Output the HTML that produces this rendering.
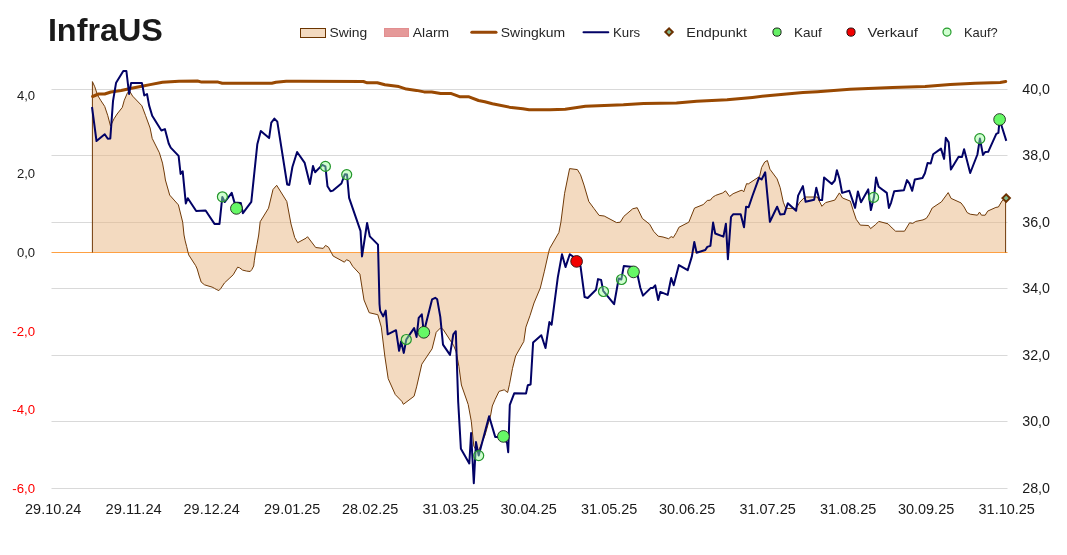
<!DOCTYPE html>
<html lang="de"><head><meta charset="utf-8"><title>InfraUS</title>
<style>html,body{margin:0;padding:0;background:#fff}body{width:1067px;height:555px;overflow:hidden}svg{display:block;will-change:opacity,transform;transform:translateZ(0)}text{font-family:"Liberation Sans",sans-serif}</style></head><body>
<svg width="1067" height="555" viewBox="0 0 1067 555">
<rect width="1067" height="555" fill="#fff"/>
<line x1="51.5" y1="89.5" x2="1007.5" y2="89.5" stroke="#D9D9D9" stroke-width="1"/>
<line x1="51.5" y1="155.5" x2="1007.5" y2="155.5" stroke="#D9D9D9" stroke-width="1"/>
<line x1="51.5" y1="222.5" x2="1007.5" y2="222.5" stroke="#D9D9D9" stroke-width="1"/>
<line x1="51.5" y1="288.5" x2="1007.5" y2="288.5" stroke="#D9D9D9" stroke-width="1"/>
<line x1="51.5" y1="355.5" x2="1007.5" y2="355.5" stroke="#D9D9D9" stroke-width="1"/>
<line x1="51.5" y1="421.5" x2="1007.5" y2="421.5" stroke="#D9D9D9" stroke-width="1"/>
<line x1="51.5" y1="488.5" x2="1007.5" y2="488.5" stroke="#D9D9D9" stroke-width="1"/>
<polygon points="92.4,252.5 92.4,81.6 94.8,86.8 97.5,95.1 100.6,100.2 104.7,106.4 107.8,115.7 110.5,126.0 114.0,118.8 117.1,114.0 122.3,107.4 124.3,100.2 127.4,93.0 129.5,90.9 132.6,96.1 141.9,105.8 145.6,115.7 150.1,128.0 152.2,138.4 159.4,152.8 162.5,163.1 164.5,174.0 165.4,180.0 169.7,195.1 178.4,204.9 182.7,222.2 184.0,235.0 185.2,240.9 186.7,246.7 188.1,252.6 188.7,254.9 195.7,265.7 197.2,269.0 199.2,276.0 201.2,282.1 204.5,284.8 208.0,285.9 212.1,287.1 214.4,288.3 216.2,289.4 218.9,290.6 220.9,288.3 224.4,283.0 229.1,278.6 233.2,274.8 237.6,267.2 239.6,267.8 242.6,270.1 246.7,271.1 250.2,271.5 251.9,269.5 253.7,266.0 254.3,260.8 255.5,252.6 257.0,244.4 258.7,235.0 260.2,221.7 268.5,208.2 273.0,189.5 276.7,185.3 286.8,201.5 291.0,224.0 294.7,237.5 297.7,242.7 306.0,238.2 307.5,236.7 315.7,247.5 323.2,248.4 325.5,245.4 328.5,247.2 331.5,252.9 333.1,256.0 344.4,262.2 346.5,259.7 349.6,261.1 352.7,266.3 359.9,274.1 364.0,300.0 369.2,312.7 377.8,314.7 381.3,327.1 384.8,356.0 388.2,378.7 395.3,394.6 401.8,401.3 403.4,404.3 414.1,396.2 416.6,386.9 421.8,364.2 432.1,348.8 436.2,332.3 440.3,328.1 443.0,329.2 453.7,345.7 456.2,351.9 458.9,366.3 461.4,385.0 468.2,404.5 471.3,421.3 473.8,446.0 477.0,452.0 479.4,448.8 485.0,435.3 490.7,415.0 492.3,406.0 495.2,399.3 499.0,391.4 504.2,389.8 507.6,392.5 509.4,384.8 512.5,368.4 515.6,356.0 523.8,341.5 525.9,327.1 530.0,315.6 534.0,303.0 540.3,288.0 544.4,271.2 548.6,252.5 549.6,248.6 558.9,232.5 560.9,222.2 564.6,193.3 569.6,168.6 577.4,169.6 580.5,174.7 584.0,185.1 588.8,201.5 593.9,208.4 599.1,215.4 604.2,216.0 616.6,222.6 620.3,222.2 623.8,216.4 632.7,208.8 637.2,207.7 642.4,218.5 649.6,224.2 653.7,231.4 658.2,236.2 663.0,237.0 668.6,238.7 671.2,236.6 673.3,237.6 676.4,232.5 678.9,227.3 688.8,222.2 694.5,208.1 703.2,204.6 707.3,200.5 710.4,200.1 712.5,197.4 715.6,195.4 722.8,192.9 725.5,190.8 729.6,196.4 733.1,193.7 740.0,190.8 742.1,190.2 743.7,191.9 746.6,183.6 748.2,184.0 759.6,176.4 761.6,167.5 764.7,162.0 767.4,160.5 769.9,169.2 777.1,178.9 780.2,187.7 783.3,202.2 785.8,208.4 796.1,208.4 799.8,202.2 804.9,197.0 817.3,197.0 821.9,206.3 825.6,202.6 834.8,200.1 839.4,192.9 842.5,198.0 850.3,201.1 853.1,210.1 856.2,219.3 860.3,225.1 868.5,225.5 870.6,228.6 875.7,224.5 878.8,221.4 888.0,223.8 892.1,228.0 895.6,231.2 904.5,231.2 909.6,222.8 912.7,223.4 915.8,221.4 923.0,219.9 926.4,218.3 929.1,214.2 932.2,208.0 941.4,201.9 948.2,192.6 951.1,198.4 961.0,202.9 964.1,207.0 967.1,212.5 970.2,214.2 977.4,215.2 979.5,212.1 981.5,215.2 985.2,215.2 987.7,211.1 995.9,207.4 998.4,207.0 1002.1,200.8 1005.6,198.2 1005.6,252.5" fill="#E7B581" fill-opacity="0.5" stroke="none"/>
<line x1="51.5" y1="252.5" x2="1007.5" y2="252.5" stroke="#FEA042" stroke-width="1"/>
<polyline points="92.4,252.5 92.4,81.6 94.8,86.8 97.5,95.1 100.6,100.2 104.7,106.4 107.8,115.7 110.5,126.0 114.0,118.8 117.1,114.0 122.3,107.4 124.3,100.2 127.4,93.0 129.5,90.9 132.6,96.1 141.9,105.8 145.6,115.7 150.1,128.0 152.2,138.4 159.4,152.8 162.5,163.1 164.5,174.0 165.4,180.0 169.7,195.1 178.4,204.9 182.7,222.2 184.0,235.0 185.2,240.9 186.7,246.7 188.1,252.6 188.7,254.9 195.7,265.7 197.2,269.0 199.2,276.0 201.2,282.1 204.5,284.8 208.0,285.9 212.1,287.1 214.4,288.3 216.2,289.4 218.9,290.6 220.9,288.3 224.4,283.0 229.1,278.6 233.2,274.8 237.6,267.2 239.6,267.8 242.6,270.1 246.7,271.1 250.2,271.5 251.9,269.5 253.7,266.0 254.3,260.8 255.5,252.6 257.0,244.4 258.7,235.0 260.2,221.7 268.5,208.2 273.0,189.5 276.7,185.3 286.8,201.5 291.0,224.0 294.7,237.5 297.7,242.7 306.0,238.2 307.5,236.7 315.7,247.5 323.2,248.4 325.5,245.4 328.5,247.2 331.5,252.9 333.1,256.0 344.4,262.2 346.5,259.7 349.6,261.1 352.7,266.3 359.9,274.1 364.0,300.0 369.2,312.7 377.8,314.7 381.3,327.1 384.8,356.0 388.2,378.7 395.3,394.6 401.8,401.3 403.4,404.3 414.1,396.2 416.6,386.9 421.8,364.2 432.1,348.8 436.2,332.3 440.3,328.1 443.0,329.2 453.7,345.7 456.2,351.9 458.9,366.3 461.4,385.0 468.2,404.5 471.3,421.3 473.8,446.0 477.0,452.0 479.4,448.8 485.0,435.3 490.7,415.0 492.3,406.0 495.2,399.3 499.0,391.4 504.2,389.8 507.6,392.5 509.4,384.8 512.5,368.4 515.6,356.0 523.8,341.5 525.9,327.1 530.0,315.6 534.0,303.0 540.3,288.0 544.4,271.2 548.6,252.5 549.6,248.6 558.9,232.5 560.9,222.2 564.6,193.3 569.6,168.6 577.4,169.6 580.5,174.7 584.0,185.1 588.8,201.5 593.9,208.4 599.1,215.4 604.2,216.0 616.6,222.6 620.3,222.2 623.8,216.4 632.7,208.8 637.2,207.7 642.4,218.5 649.6,224.2 653.7,231.4 658.2,236.2 663.0,237.0 668.6,238.7 671.2,236.6 673.3,237.6 676.4,232.5 678.9,227.3 688.8,222.2 694.5,208.1 703.2,204.6 707.3,200.5 710.4,200.1 712.5,197.4 715.6,195.4 722.8,192.9 725.5,190.8 729.6,196.4 733.1,193.7 740.0,190.8 742.1,190.2 743.7,191.9 746.6,183.6 748.2,184.0 759.6,176.4 761.6,167.5 764.7,162.0 767.4,160.5 769.9,169.2 777.1,178.9 780.2,187.7 783.3,202.2 785.8,208.4 796.1,208.4 799.8,202.2 804.9,197.0 817.3,197.0 821.9,206.3 825.6,202.6 834.8,200.1 839.4,192.9 842.5,198.0 850.3,201.1 853.1,210.1 856.2,219.3 860.3,225.1 868.5,225.5 870.6,228.6 875.7,224.5 878.8,221.4 888.0,223.8 892.1,228.0 895.6,231.2 904.5,231.2 909.6,222.8 912.7,223.4 915.8,221.4 923.0,219.9 926.4,218.3 929.1,214.2 932.2,208.0 941.4,201.9 948.2,192.6 951.1,198.4 961.0,202.9 964.1,207.0 967.1,212.5 970.2,214.2 977.4,215.2 979.5,212.1 981.5,215.2 985.2,215.2 987.7,211.1 995.9,207.4 998.4,207.0 1002.1,200.8 1005.6,198.2 1005.6,252.5" fill="none" stroke="#703A08" stroke-width="1" stroke-linejoin="round"/>
<polyline points="92.6,96.5 98.6,94.0 104.7,94.0 110.9,92.0 121.2,90.5 131.5,88.2 141.9,86.2 150.1,84.6 162.5,82.3 179.0,81.2 197.5,81.0 201.6,82.1 218.1,82.1 222.3,83.3 271.8,83.3 275.9,82.3 286.2,81.2 300.0,81.2 363.4,81.5 367.2,82.8 377.3,82.8 384.9,84.8 398.8,86.6 406.4,89.1 416.5,90.4 424.1,91.9 431.7,91.9 440.6,93.4 450.7,93.4 459.5,96.7 468.4,96.7 478.5,100.5 484.8,101.8 492.4,103.8 511.4,107.6 522.8,108.8 529.1,109.8 550.0,109.8 565.2,109.3 585.4,106.3 623.4,104.8 643.6,103.5 676.5,103.0 696.8,101.2 727.1,99.7 752.4,97.4 770.1,95.4 803.0,92.6 817.5,91.8 850.0,89.3 892.6,87.5 925.1,86.5 950.2,84.5 975.2,83.3 1000.2,82.5 1005.7,81.5" fill="none" stroke="#994902" stroke-width="3" stroke-linejoin="round" stroke-linecap="round"/>
<polyline points="92.0,107.0 96.5,141.0 104.7,134.2 107.8,138.8 110.3,138.4 113.0,101.2 116.1,82.7 123.3,71.0 126.4,71.0 129.1,94.0 131.1,82.9 141.9,82.9 144.3,95.5 147.0,94.0 149.1,105.4 152.2,115.7 161.4,130.5 164.9,129.1 168.7,143.5 170.7,147.6 178.6,155.9 180.6,174.0 182.7,171.3 185.8,203.4 187.8,198.2 196.2,211.0 205.6,210.5 214.5,223.9 219.5,223.9 222.3,197.0 224.8,202.0 231.7,192.9 234.5,202.6 240.8,203.0 242.9,213.2 251.3,201.8 257.3,144.3 260.8,130.9 269.1,138.1 271.3,122.7 274.4,118.6 277.3,121.6 287.2,184.5 289.3,184.9 292.4,167.0 297.1,152.0 304.7,162.9 309.9,184.1 313.0,166.0 315.1,172.2 322.3,164.9 325.4,166.4 327.5,186.3 330.6,191.2 333.0,190.6 341.4,183.5 344.9,174.2 347.0,174.6 349.1,197.9 360.5,230.8 362.0,256.4 367.1,223.0 369.8,236.4 378.0,244.6 379.5,304.0 380.1,310.6 383.2,316.4 385.7,310.6 387.7,334.3 396.0,330.2 399.1,350.8 401.1,341.5 403.8,352.9 406.3,339.5 414.1,328.1 416.6,337.0 418.7,317.8 421.8,314.3 423.8,332.3 432.1,299.3 435.2,297.8 437.2,299.3 440.3,316.8 443.0,344.6 450.0,354.9 453.3,334.3 455.8,331.2 458.2,402.0 460.9,448.8 469.3,463.5 471.1,433.1 473.8,483.3 476.0,442.1 478.7,455.6 489.1,416.2 495.2,436.9 498.6,436.9 503.5,436.4 507.1,443.2 508.2,452.2 509.8,404.9 514.3,393.2 526.0,393.6 527.8,385.3 530.6,384.5 533.1,342.6 541.3,335.2 545.5,348.0 549.4,322.0 551.6,324.8 557.8,277.4 562.0,254.3 565.5,267.1 569.8,254.3 573.3,256.8 576.7,261.3 580.5,266.1 584.6,297.0 587.7,298.0 596.0,289.8 598.0,279.1 601.1,279.9 603.2,290.8 614.1,304.2 618.7,278.5 621.3,279.5 623.8,266.1 633.1,267.1 637.2,273.3 640.3,287.7 643.0,295.6 650.6,288.1 652.7,288.1 655.2,285.3 658.2,300.1 660.3,291.9 667.7,294.9 671.2,278.0 673.7,285.3 678.9,265.1 687.7,270.2 691.9,256.4 694.3,242.0 696.6,252.7 705.3,250.0 707.3,246.9 710.4,245.9 713.1,222.6 715.2,233.5 723.4,236.6 725.9,223.8 727.9,259.3 731.0,217.0 733.1,214.3 740.7,214.3 744.0,227.3 746.1,206.7 748.6,207.3 752.4,196.0 759.0,177.8 761.6,179.5 765.2,172.3 769.9,221.8 777.1,206.7 780.2,214.5 784.3,214.1 787.8,203.2 796.1,210.8 798.1,195.6 802.9,186.1 805.6,201.8 814.2,199.7 816.3,187.7 819.4,200.1 822.1,200.1 824.1,177.4 831.8,184.0 834.8,180.5 836.9,170.2 839.4,178.5 842.1,192.9 849.3,190.8 855.1,207.9 857.9,191.4 861.0,202.2 868.2,189.4 870.9,210.0 874.0,197.0 876.1,177.4 878.6,186.7 886.8,192.9 888.9,207.9 891.1,202.6 894.2,191.2 903.9,190.2 907.0,180.1 909.5,183.6 912.2,190.8 914.8,179.5 922.5,178.0 924.9,173.3 927.6,163.0 930.7,163.6 933.2,154.3 941.0,148.6 944.1,158.9 945.8,137.8 948.7,142.4 950.9,169.6 958.6,156.8 962.0,157.1 964.1,149.3 970.2,173.0 977.4,154.5 979.9,138.6 983.0,155.0 985.2,152.0 988.2,151.8 996.3,133.9 998.4,132.9 999.6,119.5 1006.3,140.9" fill="none" stroke="#020266" stroke-width="2" stroke-linejoin="round" stroke-linecap="butt"/>
<circle cx="222.4" cy="196.8" r="5.0" fill="#96FF96" fill-opacity="0.45" stroke="#22962A" stroke-width="1.2"/>
<circle cx="325.4" cy="166.4" r="5.0" fill="#96FF96" fill-opacity="0.45" stroke="#22962A" stroke-width="1.2"/>
<circle cx="346.7" cy="174.6" r="5.0" fill="#96FF96" fill-opacity="0.45" stroke="#22962A" stroke-width="1.2"/>
<circle cx="406.3" cy="339.5" r="5.0" fill="#96FF96" fill-opacity="0.45" stroke="#22962A" stroke-width="1.2"/>
<circle cx="478.7" cy="455.6" r="5.0" fill="#96FF96" fill-opacity="0.45" stroke="#22962A" stroke-width="1.2"/>
<circle cx="603.5" cy="291.5" r="5.0" fill="#96FF96" fill-opacity="0.45" stroke="#22962A" stroke-width="1.2"/>
<circle cx="621.5" cy="279.5" r="5.0" fill="#96FF96" fill-opacity="0.45" stroke="#22962A" stroke-width="1.2"/>
<circle cx="873.6" cy="197.4" r="5.0" fill="#96FF96" fill-opacity="0.45" stroke="#22962A" stroke-width="1.2"/>
<circle cx="979.8" cy="138.6" r="5.0" fill="#96FF96" fill-opacity="0.45" stroke="#22962A" stroke-width="1.2"/>
<circle cx="236.4" cy="208.4" r="5.85" fill="#66F866" stroke="#1c241c" stroke-width="0.9"/>
<circle cx="423.8" cy="332.3" r="5.85" fill="#66F866" stroke="#1c241c" stroke-width="0.9"/>
<circle cx="503.4" cy="436.4" r="5.85" fill="#66F866" stroke="#1c241c" stroke-width="0.9"/>
<circle cx="633.5" cy="271.9" r="5.85" fill="#66F866" stroke="#1c241c" stroke-width="0.9"/>
<circle cx="999.6" cy="119.5" r="5.85" fill="#66F866" stroke="#1c241c" stroke-width="0.9"/>
<circle cx="576.6" cy="261.4" r="5.85" fill="#F20000" stroke="#2a1010" stroke-width="0.9"/>
<path d="M1002.4,198.1 L1006.15,194.35 L1009.9,198.1 L1006.15,201.85 Z" fill="#82B98C" stroke="#6B3000" stroke-width="2" stroke-linejoin="miter"/>
<text x="47.9" y="40.8" font-size="31.8" font-weight="bold" fill="#1a1a1a" textLength="115" lengthAdjust="spacingAndGlyphs">InfraUS</text>
<rect x="300.5" y="28.5" width="25" height="9" fill="#F3DAC0" stroke="#6B3500" stroke-width="1"/>
<text x="329.5" y="36.7" font-size="12.8" fill="#262626" textLength="37.8" lengthAdjust="spacingAndGlyphs">Swing</text>
<rect x="384.5" y="28.5" width="24" height="8" fill="#E59999" stroke="#E28E90" stroke-width="1"/>
<text x="412.8" y="36.7" font-size="12.8" fill="#262626" textLength="36.4" lengthAdjust="spacingAndGlyphs">Alarm</text>
<line x1="471.8" y1="32.3" x2="496" y2="32.3" stroke="#984807" stroke-width="3" stroke-linecap="round"/>
<text x="500.8" y="36.7" font-size="12.8" fill="#262626" textLength="64.4" lengthAdjust="spacingAndGlyphs">Swingkum</text>
<line x1="583.5" y1="32.3" x2="608.3" y2="32.3" stroke="#020266" stroke-width="2" stroke-linecap="round"/>
<text x="613" y="36.7" font-size="12.8" fill="#262626" textLength="27.2" lengthAdjust="spacingAndGlyphs">Kurs</text>
<path d="M665.3499999999999,32.0 L669.05,28.3 L672.75,32.0 L669.05,35.7 Z" fill="#82B98C" stroke="#6B3000" stroke-width="2" stroke-linejoin="miter"/>
<text x="686.3" y="36.7" font-size="12.8" fill="#262626" textLength="60.7" lengthAdjust="spacingAndGlyphs">Endpunkt</text>
<circle cx="777" cy="32.1" r="4.1" fill="#66F066" stroke="#1c241c" stroke-width="1"/>
<text x="794" y="36.7" font-size="12.8" fill="#262626" textLength="27.8" lengthAdjust="spacingAndGlyphs">Kauf</text>
<circle cx="851" cy="32.1" r="4.1" fill="#F20000" stroke="#2a1010" stroke-width="1"/>
<text x="867.4" y="36.7" font-size="12.8" fill="#262626" textLength="50.4" lengthAdjust="spacingAndGlyphs">Verkauf</text>
<circle cx="947" cy="32.1" r="4.0" fill="#96FF96" fill-opacity="0.45" stroke="#259C2C" stroke-width="1.2"/>
<text x="964" y="36.7" font-size="12.8" fill="#262626" textLength="33.7" lengthAdjust="spacingAndGlyphs">Kauf?</text>
<text x="16.9" y="100.0" font-size="12.8" fill="#1a1a1a" textLength="18.2" lengthAdjust="spacingAndGlyphs">4,0</text>
<text x="16.9" y="178.1" font-size="12.8" fill="#1a1a1a" textLength="18.2" lengthAdjust="spacingAndGlyphs">2,0</text>
<text x="16.9" y="257.1" font-size="12.8" fill="#1a1a1a" textLength="18.2" lengthAdjust="spacingAndGlyphs">0,0</text>
<text x="12.3" y="335.7" font-size="12.8" fill="#FF0000" textLength="22.8" lengthAdjust="spacingAndGlyphs">-2,0</text>
<text x="12.3" y="414.4" font-size="12.8" fill="#FF0000" textLength="22.8" lengthAdjust="spacingAndGlyphs">-4,0</text>
<text x="12.3" y="493.1" font-size="12.8" fill="#FF0000" textLength="22.8" lengthAdjust="spacingAndGlyphs">-6,0</text>
<text x="1022.2" y="93.9" font-size="14" fill="#1a1a1a" textLength="27.8" lengthAdjust="spacingAndGlyphs">40,0</text>
<text x="1022.2" y="159.9" font-size="14" fill="#1a1a1a" textLength="27.8" lengthAdjust="spacingAndGlyphs">38,0</text>
<text x="1022.2" y="226.9" font-size="14" fill="#1a1a1a" textLength="27.8" lengthAdjust="spacingAndGlyphs">36,0</text>
<text x="1022.2" y="292.9" font-size="14" fill="#1a1a1a" textLength="27.8" lengthAdjust="spacingAndGlyphs">34,0</text>
<text x="1022.2" y="359.9" font-size="14" fill="#1a1a1a" textLength="27.8" lengthAdjust="spacingAndGlyphs">32,0</text>
<text x="1022.2" y="425.9" font-size="14" fill="#1a1a1a" textLength="27.8" lengthAdjust="spacingAndGlyphs">30,0</text>
<text x="1022.2" y="492.9" font-size="14" fill="#1a1a1a" textLength="27.8" lengthAdjust="spacingAndGlyphs">28,0</text>
<text x="25.1" y="514.4" font-size="14.2" fill="#1a1a1a" textLength="56.2" lengthAdjust="spacingAndGlyphs">29.10.24</text>
<text x="105.6" y="514.4" font-size="14.2" fill="#1a1a1a" textLength="56.2" lengthAdjust="spacingAndGlyphs">29.11.24</text>
<text x="183.6" y="514.4" font-size="14.2" fill="#1a1a1a" textLength="56.2" lengthAdjust="spacingAndGlyphs">29.12.24</text>
<text x="264.1" y="514.4" font-size="14.2" fill="#1a1a1a" textLength="56.2" lengthAdjust="spacingAndGlyphs">29.01.25</text>
<text x="342.1" y="514.4" font-size="14.2" fill="#1a1a1a" textLength="56.2" lengthAdjust="spacingAndGlyphs">28.02.25</text>
<text x="422.6" y="514.4" font-size="14.2" fill="#1a1a1a" textLength="56.2" lengthAdjust="spacingAndGlyphs">31.03.25</text>
<text x="500.5" y="514.4" font-size="14.2" fill="#1a1a1a" textLength="56.2" lengthAdjust="spacingAndGlyphs">30.04.25</text>
<text x="581.1" y="514.4" font-size="14.2" fill="#1a1a1a" textLength="56.2" lengthAdjust="spacingAndGlyphs">31.05.25</text>
<text x="659.0" y="514.4" font-size="14.2" fill="#1a1a1a" textLength="56.2" lengthAdjust="spacingAndGlyphs">30.06.25</text>
<text x="739.5" y="514.4" font-size="14.2" fill="#1a1a1a" textLength="56.2" lengthAdjust="spacingAndGlyphs">31.07.25</text>
<text x="820.1" y="514.4" font-size="14.2" fill="#1a1a1a" textLength="56.2" lengthAdjust="spacingAndGlyphs">31.08.25</text>
<text x="898.0" y="514.4" font-size="14.2" fill="#1a1a1a" textLength="56.2" lengthAdjust="spacingAndGlyphs">30.09.25</text>
<text x="978.6" y="514.4" font-size="14.2" fill="#1a1a1a" textLength="56.2" lengthAdjust="spacingAndGlyphs">31.10.25</text>
</svg></body></html>
